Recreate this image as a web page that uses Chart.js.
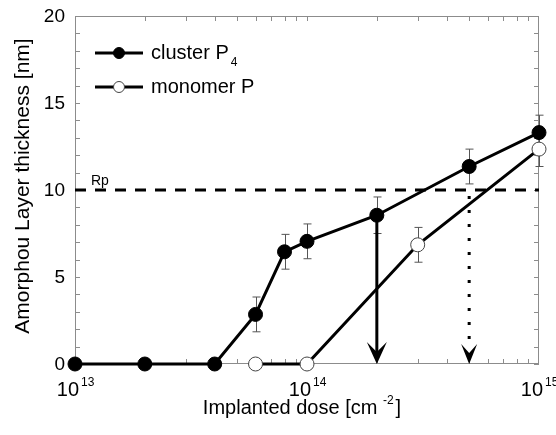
<!DOCTYPE html>
<html>
<head>
<meta charset="utf-8">
<script src="https://cdn.jsdelivr.net/npm/chart.js@4/dist/chart.umd.min.js"></script>
<style>
  body { margin: 0; background: #fff; }
  #wrap { width: 556px; height: 435px; position: relative; }
</style>
</head>
<body>
<div id="wrap"><canvas id="chart"></canvas></div>
<script>
// values
const clusterDose = [1e13, 2e13, 4e13, 6e13, 8e13, 1e14, 2e14, 5e14, 1e15];
const clusterThick = [0, 0, 0, 2.85, 6.45, 7.05, 8.55, 11.35, 13.3];
const clusterErr = [0, 0, 0, 1.0, 1.0, 1.0, 1.05, 1.0, 1.0];

const monomerDose = [6e13, 1e14, 3e14, 1e15];
const monomerThick = [0, 0, 6.85, 12.35];
const monomerErr = [0, 0, 1.0, 1.0];

const rpDose = [1e13, 1e15];
const rpThick = [10, 10];

const arrowDose = [2e14, 5e14];
const arrowFrom = [8.55, 10];

const yTicks = [0, 5, 10, 15, 20];
const xDecades = [13, 14, 15];

const FONT = '"Liberation Sans", Arial, sans-serif';

const canvas = document.getElementById("chart");
const ctx = canvas.getContext("2d");

function pts(xs, ys) {
    return xs.map((x, i) => ({x: x, y: ys[i]}));
}

function arrowHead(c, x, y, w, h, notch) {
    c.beginPath();
    c.moveTo(x, y);
    c.lineTo(x - w, y - h);
    c.lineTo(x, y - notch);
    c.lineTo(x + w, y - h);
    c.closePath();
    c.fill();
}

const extras = {
    id: "extras",
    beforeDatasetsDraw(chart) {
        const c = chart.ctx;
        const a = chart.chartArea;
        const xs = chart.scales.x, ys = chart.scales.y;
        c.save();

        // frame
        c.strokeStyle = "#8c8c8c";
        c.lineWidth = 1;
        c.strokeRect(a.left + 0.5, a.top + 0.5, a.right - a.left - 1, a.bottom - a.top - 1);

        // inward ticks, y every 1 nm
        c.beginPath();
        for (let v = 0; v <= 20; v++) {
            const y = Math.round(ys.getPixelForValue(v)) + 0.5;
            c.moveTo(a.left, y); c.lineTo(a.left + 5, y);
            c.moveTo(a.right, y); c.lineTo(a.right - 5, y);
        }
        // log ticks on bottom and top
        for (let e = 13; e < 15; e++) {
            for (let m = 1; m <= 9; m++) {
                const x = Math.round(xs.getPixelForValue(m * Math.pow(10, e))) + 0.5;
                c.moveTo(x, a.bottom); c.lineTo(x, a.bottom - 5);
                c.moveTo(x, a.top); c.lineTo(x, a.top + 5);
            }
        }
        c.stroke();

        // error bars
        c.strokeStyle = "#555";
        c.lineWidth = 1;
        const bars = (dx, dy, de) => {
            dx.forEach((d, i) => {
                if (!de[i]) return;
                const x = Math.round(xs.getPixelForValue(d)) + 0.5;
                const y1 = ys.getPixelForValue(dy[i] + de[i]);
                const y2 = ys.getPixelForValue(dy[i] - de[i]);
                c.beginPath();
                c.moveTo(x, y1); c.lineTo(x, y2);
                c.moveTo(x - 4, y1); c.lineTo(x + 4, y1);
                c.moveTo(x - 4, y2); c.lineTo(x + 4, y2);
                c.stroke();
            });
        };
        bars(clusterDose, clusterThick, clusterErr);
        bars(monomerDose, monomerThick, monomerErr);

        // arrows down to the axis
        c.strokeStyle = "#000";
        c.fillStyle = "#000";
        const x0 = xs.getPixelForValue(arrowDose[0]);
        c.lineWidth = 3;
        c.beginPath();
        c.moveTo(x0, ys.getPixelForValue(arrowFrom[0]));
        c.lineTo(x0, a.bottom - 12);
        c.stroke();
        arrowHead(c, x0, a.bottom, 10, 22, 12);

        const x1 = xs.getPixelForValue(arrowDose[1]);
        c.setLineDash([3, 11]);
        c.beginPath();
        c.moveTo(x1, ys.getPixelForValue(arrowFrom[1]) + 6);
        c.lineTo(x1, a.bottom - 16);
        c.stroke();
        c.setLineDash([]);
        arrowHead(c, x1, a.bottom, 8, 20, 11);

        c.restore();
    },
    afterDraw(chart) {
        const c = chart.ctx;
        const a = chart.chartArea;
        const xs = chart.scales.x, ys = chart.scales.y;
        c.save();
        c.fillStyle = "#000";

        // y tick labels
        c.font = "19px " + FONT;
        c.textAlign = "right";
        c.textBaseline = "middle";
        yTicks.forEach(v => c.fillText(String(v), a.left - 10, ys.getPixelForValue(v) + 1));

        // x tick labels 10^n
        xDecades.forEach(e => {
            const x = xs.getPixelForValue(Math.pow(10, e));
            c.textBaseline = "alphabetic";
            c.font = "20px " + FONT;
            c.textAlign = "right";
            c.fillText("10", x + 4, a.bottom + 32);
            c.font = "12px " + FONT;
            c.textAlign = "left";
            c.fillText(String(e), x + 6, a.bottom + 22);
        });

        // x title with superscript
        c.textBaseline = "alphabetic";
        c.textAlign = "left";
        c.font = "20px " + FONT;
        const t1 = "Implanted dose [cm ";
        const w1 = c.measureText(t1).width;
        c.font = "12px " + FONT;
        const w2 = c.measureText("-2").width;
        c.font = "20px " + FONT;
        const w3 = c.measureText("]").width;
        let sx = 302 - (w1 + w2 + 2 + w3) / 2;
        c.fillText(t1, sx, a.bottom + 50);
        c.font = "12px " + FONT;
        c.fillText("-2", sx + w1, a.bottom + 40);
        c.font = "20px " + FONT;
        c.fillText("]", sx + w1 + w2 + 2, a.bottom + 50);

        // y title
        c.save();
        c.translate(23, 186);
        c.rotate(-Math.PI / 2);
        c.textAlign = "center";
        c.textBaseline = "middle";
        c.font = "21px " + FONT;
        c.fillText("Amorphou Layer thickness [nm]", 0, 0);
        c.restore();

        // Rp label
        c.font = "14px " + FONT;
        c.textAlign = "left";
        c.textBaseline = "alphabetic";
        c.fillText("Rp", a.left + 16, ys.getPixelForValue(rpThick[0]) - 5);

        // legend
        const rows = [
            {y: 53, fill: "#000", stroke: "#000", text: "cluster P", sub: "4"},
            {y: 87, fill: "#fff", stroke: "#444", text: "monomer P", sub: ""}
        ];
        rows.forEach(r => {
            c.strokeStyle = "#000";
            c.lineWidth = 3;
            c.beginPath();
            c.moveTo(95, r.y); c.lineTo(143, r.y);
            c.stroke();
            c.beginPath();
            c.arc(119, r.y, 5.5, 0, Math.PI * 2);
            c.fillStyle = r.fill;
            c.fill();
            c.lineWidth = 1;
            c.strokeStyle = r.stroke;
            c.stroke();
            c.fillStyle = "#000";
            c.font = "20px " + FONT;
            c.textBaseline = "middle";
            c.fillText(r.text, 151, r.y);
            if (r.sub) {
                const w = c.measureText(r.text).width;
                c.font = "12px " + FONT;
                c.fillText(r.sub, 151 + w + 2, r.y + 10);
            }
        });

        c.restore();
    }
};

const chart = new Chart(ctx, {
    type: "line",
    data: {
        datasets: [
            {
                label: "Rp",
                data: pts(rpDose, rpThick),
                borderColor: "#000",
                borderWidth: 3,
                borderDash: [11, 9],
                pointRadius: 0,
                clip: false
            }, {
                label: "monomer P",
                data: pts(monomerDose, monomerThick),
                borderColor: "#000",
                borderWidth: 3,
                pointRadius: 7,
                pointBackgroundColor: "#fff",
                pointBorderColor: "#444",
                pointBorderWidth: 1,
                clip: false
            }, {
                label: "cluster P4",
                data: pts(clusterDose, clusterThick),
                borderColor: "#000",
                borderWidth: 3,
                pointRadius: 7,
                pointBackgroundColor: "#000",
                pointBorderColor: "#000",
                pointBorderWidth: 1,
                clip: false
            }
        ]
    },
    options: {
        responsive: true,
        maintainAspectRatio: false,
        animation: false,
        layout: {padding: {left: 75, right: 17, top: 16, bottom: 71}},
        plugins: {
            legend: {display: false},
            tooltip: {enabled: false}
        },
        scales: {
            x: {type: "logarithmic", min: 1e13, max: 1e15, display: false},
            y: {type: "linear", min: 0, max: 20, display: false}
        }
    },
    plugins: [extras]
});
</script>
</body>
</html>
